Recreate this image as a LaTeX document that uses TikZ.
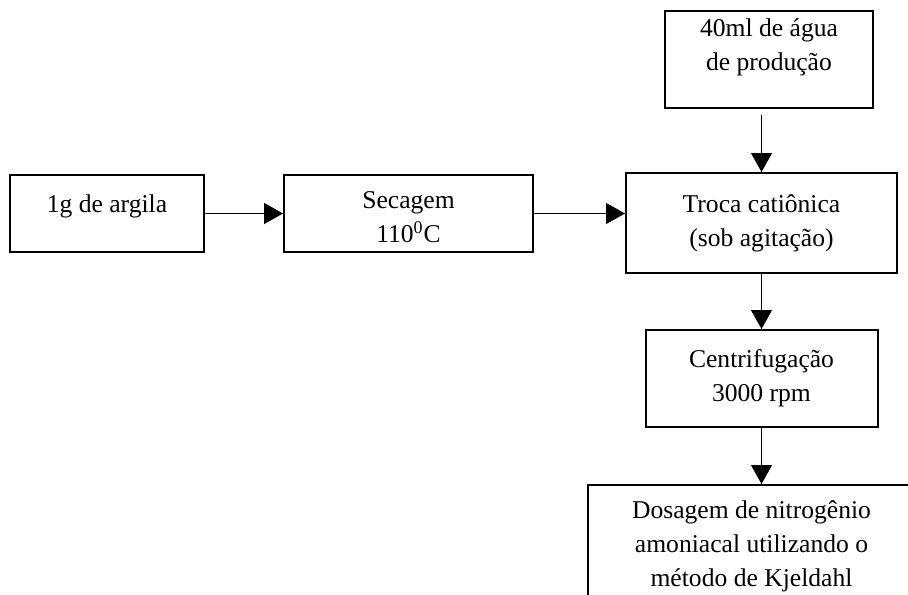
\documentclass[tikz,border=0pt]{standalone}
\usepackage{fontspec}
\setmainfont{Liberation Serif}
\usetikzlibrary{arrows.meta,positioning}
\begin{document}
\begin{tikzpicture}[
  box/.style={draw, rectangle, line width=1pt, align=center, inner sep=2pt},
  arr/.style={-{Triangle[length=9.5pt,width=10.5pt]}, line width=0.7pt},
  font=\fontsize{12.8}{17}\selectfont]
\clip (0,0) rectangle (454pt,-297pt);
% preparo da argila
\node[box, minimum width=97pt, minimum height=38.5pt, text depth=10pt] (argila) at (53.5pt,-106.75pt) {1g de argila};
\node[box, minimum width=124.5pt, minimum height=38.5pt, text height=29pt, right=39pt of argila] (secagem) {Secagem\\110\textsuperscript{0}C};
\node[box, minimum width=135.5pt, minimum height=50pt] (troca) at (380.75pt,-111.5pt) {Troca catiônica\\(sob agitação)};
\node[box, minimum width=104pt, minimum height=48.5pt, text depth=15pt, above=31.5pt of troca, xshift=3.75pt] (agua) {40ml de água\\de produção};
% analise
\node[box, minimum width=116pt, minimum height=48.5pt, below=27.5pt of troca] (centrif) {Centrifugação\\3000 rpm};
\node[box, minimum width=164pt, minimum height=61pt, below=28pt of centrif, xshift=-5pt] (dosagem) {Dosagem de nitrogênio\\amoniacal utilizando o\\método de Kjeldahl};
\draw[arr] (argila) -- (secagem);
\draw[arr] (secagem.east) -- (secagem.east -| troca.west);
\draw[arr, shorten <=3pt] (agua.south -| troca.north) -- (troca.north);
\draw[arr] (troca) -- (centrif);
\draw[arr] (centrif.south) -- (centrif.south |- dosagem.north);
\end{tikzpicture}
\end{document}
